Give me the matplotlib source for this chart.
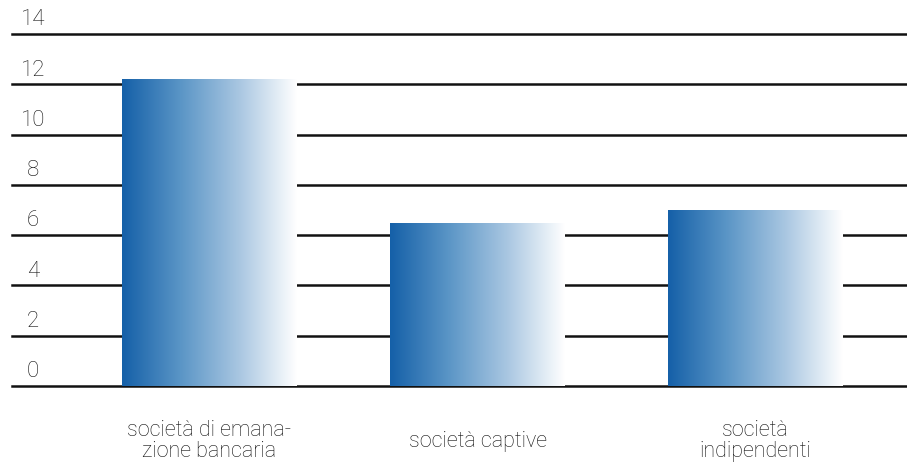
import numpy as np
import matplotlib.pyplot as plt
from matplotlib.colors import LinearSegmentedColormap

categories = ["società di emana-\nzione bancaria", "società captive", "società\nindipendenti"]
values = [12.2, 6.5, 7.0]
yticks = [0, 2, 4, 6, 8, 10, 12, 14]

# bar centres and width in axes pixel units
centers = [197.5, 465.5, 743.5]
width = 175

plt.rcParams['font.family'] = ['Roboto', 'DejaVu Sans']

fig = plt.figure(figsize=(9.07, 4.62), dpi=100)
ax = fig.add_axes([12 / 907, 76 / 462, 895 / 907, 352 / 462])
ax.set_xlim(0, 895)
ax.set_ylim(0, 14)
ax.axis('off')

# horizontal rules with the value just above each one
for t in yticks:
    ax.axhline(t, color='#111111', lw=1.8, zorder=1, clip_on=False)
    ax.text(21, t + 0.15, str(t), ha='center', va='bottom', fontsize=16,
            fontweight='light', color='#111111')

cmap = LinearSegmentedColormap.from_list(
    'blues', ['#1560a8', '#5a95c6', '#a8c6e1', '#ffffff'])
grad = np.linspace(0, 1, 256).reshape(1, -1)

bars = ax.bar(centers, values, width=width, color='none', edgecolor='none', zorder=2)
for b in bars:
    x0, y0 = b.get_x(), b.get_y()
    im = ax.imshow(grad, cmap=cmap, aspect='auto', zorder=2,
                   extent=(x0, x0 + b.get_width(), y0, y0 + b.get_height()))
    im.set_clip_path(b)

ax.set_xlim(0, 895)
ax.set_ylim(0, 14)

for c, lab in zip(centers, categories):
    fig.text((12 + c) / 907, 1 - 441 / 462, lab, ha='center', va='center',
             fontsize=15.5, fontweight='light', color='#111111', linespacing=1.0)

fig.savefig('out.png', dpi=100)
